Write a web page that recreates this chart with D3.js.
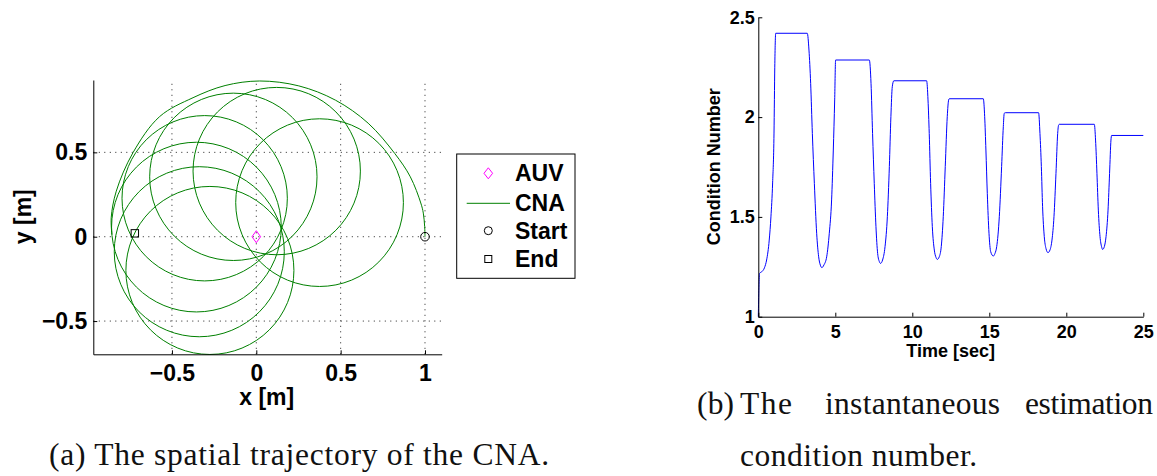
<!DOCTYPE html>
<html>
<head>
<meta charset="utf-8">
<script src="https://cdn.jsdelivr.net/npm/d3@7"></script>
<style>
  html, body { margin: 0; padding: 0; background: #fff; }
  svg { display: block; }
</style>
</head>
<body>
<svg id="fig" width="1157" height="476"></svg>
<script>
// ---------------- panel (a): spatial trajectory ----------------
const auvPos   = [0, 0];
const startPos = [1, 0];
const endPos   = [-0.72, 0.02];

// opening spiral flown from the start point until it runs into loop 5 (metres)
const spiralX = [1.000, 0.998, 0.990, 0.975, 0.913, 0.821, 0.663, 0.470, 0.252, 0.020,
                 -0.185, -0.375, -0.573, -0.731, -0.830, -0.860, -0.856];
const spiralY = [0.000, 0.060, 0.140, 0.200, 0.355, 0.493, 0.673, 0.809, 0.894, 0.923,
                 0.896, 0.824, 0.712, 0.498, 0.270, 0.113, 0.013];

// circular loops of the CNA: centre and radius (metres)
const loopCx = [0.375, 0.121, -0.136, -0.306, -0.355, -0.338, -0.275];
const loopCy = [0.202, 0.389, 0.355, 0.228, 0.057, -0.089, -0.200];
const loopR  = [0.497, 0.496, 0.496, 0.490, 0.503, 0.504, 0.498];

const xTicksA = [-0.5, 0, 0.5, 1];
const yTicksA = [-0.5, 0, 0.5];
const legendLabels = ["AUV", "CNA", "Start", "End"];

// ---------------- panel (b): condition number ----------------
const timeSec = [
  0, 0.08, 0.22, 0.40, 0.54, 0.71, 0.82, 0.93, 1.02, 1.07, 1.13,
  3.18, 3.29, 3.40, 3.51, 3.64, 3.79, 3.92, 4.03, 4.13, 4.26, 4.44, 4.61, 4.76, 4.87, 4.96, 5.02,
  7.21, 7.32, 7.42, 7.53, 7.64, 7.75, 7.86, 7.94, 8.07, 8.23, 8.38, 8.51, 8.61, 8.70, 8.80,
  10.93, 11.02, 11.10, 11.19, 11.30, 11.43, 11.54, 11.62, 11.75, 11.88, 12.01, 12.14, 12.27, 12.36, 12.40,
  14.61, 14.70, 14.78, 14.87, 14.98, 15.09, 15.26, 15.37, 15.48, 15.65, 15.80, 15.91, 15.97, 16.04,
  18.20, 18.29, 18.38, 18.46, 18.57, 18.68, 18.81, 18.94, 19.07, 19.20, 19.33, 19.44, 19.50, 19.55,
  21.82, 21.90, 21.99, 22.08, 22.19, 22.29, 22.36, 22.47, 22.58, 22.71, 22.81, 22.90, 22.94,
  25
];
const condNum = [
  1.000, 1.217, 1.225, 1.245, 1.284, 1.384, 1.500, 1.670, 1.920, 2.250, 2.420,
  2.420, 2.336, 2.169, 1.918, 1.668, 1.418, 1.300, 1.258, 1.246, 1.259, 1.300, 1.418, 1.585, 1.835, 2.086, 2.286,
  2.286, 2.169, 1.918, 1.668, 1.451, 1.317, 1.276, 1.267, 1.284, 1.351, 1.501, 1.752, 2.002, 2.152, 2.182,
  2.182, 2.086, 1.918, 1.668, 1.451, 1.334, 1.297, 1.287, 1.300, 1.351, 1.501, 1.752, 2.002, 2.086, 2.092,
  2.092, 2.002, 1.835, 1.618, 1.418, 1.326, 1.304, 1.317, 1.351, 1.501, 1.752, 1.952, 2.019, 2.022,
  2.022, 1.918, 1.752, 1.551, 1.401, 1.342, 1.321, 1.334, 1.384, 1.501, 1.718, 1.918, 1.960, 1.964,
  1.964, 1.885, 1.718, 1.534, 1.401, 1.351, 1.337, 1.351, 1.401, 1.534, 1.718, 1.885, 1.908,
  1.908
];
const xTicksB = [0, 5, 10, 15, 20, 25];
const yTicksB = [1, 1.5, 2, 2.5];

// ---------------- captions ----------------
const captionA = "(a) The spatial trajectory of the CNA.";
const captionB1 = ["(b)", "The", "instantaneous", "estimation"];
const captionB2 = "condition number.";

// =================================================================
const svg = d3.select("#fig");
const SANS = "'Liberation Sans', Arial, Helvetica, sans-serif";
const SERIF = "'Liberation Serif', 'Times New Roman', serif";
const green = "#008000";

function styleAxis(g, size) {
  g.attr("font-family", SANS).attr("font-size", size).attr("font-weight", "bold");
  g.select(".domain").attr("stroke", "#000").attr("stroke-width", 1);
  g.selectAll(".tick line").attr("stroke", "#000").attr("stroke-width", 1);
  g.selectAll(".tick text").attr("fill", "#000");
}

// ---------------- panel (a) ----------------
const xA = d3.scaleLinear().domain([-0.9662, 1.099]).range([93.3, 441.7]);
const yA = d3.scaleLinear().domain([-0.697, 0.9289]).range([354.3, 80]);
const gA = svg.append("g");

// dotted grid
gA.append("g").selectAll("line").data(xTicksA).join("line")
  .attr("x1", d => xA(d)).attr("x2", d => xA(d))
  .attr("y1", yA.range()[0]).attr("y2", yA.range()[1])
  .attr("stroke", "#222").attr("stroke-width", 1).attr("stroke-dasharray", "1,4.5");
gA.append("g").selectAll("line").data(yTicksA).join("line")
  .attr("y1", d => yA(d)).attr("y2", d => yA(d))
  .attr("x1", xA.range()[0]).attr("x2", xA.range()[1])
  .attr("stroke", "#222").attr("stroke-width", 1).attr("stroke-dasharray", "1,4.5");

// CNA trajectory: opening spiral + loops
const spiralPts = spiralX.map((x, i) => [x, spiralY[i]]);
gA.append("path")
  .attr("d", d3.line().x(d => xA(d[0])).y(d => yA(d[1])).curve(d3.curveCatmullRom.alpha(0.5))(spiralPts))
  .attr("fill", "none").attr("stroke", green).attr("stroke-width", 1);

const loops = loopCx.map((cx, i) => ({ cx, cy: loopCy[i], r: loopR[i] }));
gA.append("g").selectAll("circle").data(loops).join("circle")
  .attr("cx", d => xA(d.cx)).attr("cy", d => yA(d.cy))
  .attr("r", d => xA(d.r) - xA(0))
  .attr("fill", "none").attr("stroke", green).attr("stroke-width", 1);

// markers
const diamond = "M0,-6L4.3,0L0,6L-4.3,0Z";
gA.append("path").attr("d", diamond)
  .attr("transform", `translate(${xA(auvPos[0])},${yA(auvPos[1])})`)
  .attr("fill", "none").attr("stroke", "#ff00ff").attr("stroke-width", 1);
gA.append("circle").attr("cx", xA(startPos[0])).attr("cy", yA(startPos[1])).attr("r", 4.3)
  .attr("fill", "none").attr("stroke", "#000").attr("stroke-width", 1);
gA.append("rect").attr("x", xA(endPos[0]) - 3.7).attr("y", yA(endPos[1]) - 3.7)
  .attr("width", 7.4).attr("height", 7.4)
  .attr("fill", "none").attr("stroke", "#000").attr("stroke-width", 1);

// axes
const axAx = gA.append("g").attr("transform", `translate(0,${yA.range()[0]})`)
  .call(d3.axisBottom(xA).tickValues(xTicksA).tickSizeInner(-4).tickSizeOuter(0).tickFormat(d3.format("")));
styleAxis(axAx, 23);
axAx.selectAll(".tick text").attr("y", 19).attr("dy", "0.35em");
const axAy = gA.append("g").attr("transform", `translate(${xA.range()[0]},0)`)
  .call(d3.axisLeft(yA).tickValues(yTicksA).tickSizeInner(-4).tickSizeOuter(0).tickPadding(6).tickFormat(d3.format("")));
styleAxis(axAy, 23);

gA.append("text").text("x [m]")
  .attr("x", 266.7).attr("y", 405).attr("text-anchor", "middle")
  .attr("font-family", SANS).attr("font-size", 23).attr("font-weight", "bold");
gA.append("text").text("y [m]")
  .attr("transform", "translate(31,216.7) rotate(-90)").attr("text-anchor", "middle")
  .attr("font-family", SANS).attr("font-size", 23).attr("font-weight", "bold");

// legend
const leg = gA.append("g");
leg.append("rect").attr("x", 456.7).attr("y", 154).attr("width", 118.3).attr("height", 124.3)
  .attr("fill", "#fff").attr("stroke", "#000").attr("stroke-width", 1);
const legY = [173.3, 203.3, 230.7, 259];
const symX = 488.3;
leg.append("path").attr("d", "M0,-5.5L4.3,0L0,5.5L-4.3,0Z")
  .attr("transform", `translate(${symX},${legY[0]})`)
  .attr("fill", "none").attr("stroke", "#ff00ff").attr("stroke-width", 1);
leg.append("line").attr("x1", 466.7).attr("x2", 510).attr("y1", legY[1]).attr("y2", legY[1])
  .attr("stroke", green).attr("stroke-width", 1);
leg.append("circle").attr("cx", symX).attr("cy", legY[2]).attr("r", 4)
  .attr("fill", "none").attr("stroke", "#000").attr("stroke-width", 1);
leg.append("rect").attr("x", symX - 3.5).attr("y", legY[3] - 3.5).attr("width", 7).attr("height", 7)
  .attr("fill", "none").attr("stroke", "#000").attr("stroke-width", 1);
leg.selectAll("text.lab").data(legendLabels).join("text").attr("class", "lab")
  .text(d => d).attr("x", 515).attr("y", (d, i) => legY[i]).attr("dy", "0.35em")
  .attr("font-family", SANS).attr("font-size", 23).attr("font-weight", "bold");

// ---------------- panel (b) ----------------
const xB = d3.scaleLinear().domain([0, 25]).range([758.3, 1143.3]);
const yB = d3.scaleLinear().domain([1, 2.5]).range([316.7, 17.3]);
const gB = svg.append("g");

const cnPts = timeSec.map((t, i) => [t, condNum[i]]);
gB.append("path")
  .attr("d", d3.line().x(d => xB(d[0])).y(d => yB(d[1])).curve(d3.curveMonotoneX)(cnPts))
  .attr("fill", "none").attr("stroke", "#0000ff").attr("stroke-width", 1);

const axBx = gB.append("g").attr("transform", `translate(0,${yB.range()[0]})`)
  .call(d3.axisBottom(xB).tickValues(xTicksB).tickSizeInner(-4).tickSizeOuter(0).tickFormat(d3.format("")));
styleAxis(axBx, 18);
axBx.selectAll(".tick text").attr("y", 15).attr("dy", "0.35em");
const axBy = gB.append("g").attr("transform", `translate(${xB.range()[0]},0)`)
  .call(d3.axisLeft(yB).tickValues(yTicksB).tickSizeInner(-4).tickSizeOuter(0).tickPadding(3.5).tickFormat(d3.format("")));
styleAxis(axBy, 18);

gB.append("text").text("Time [sec]")
  .attr("x", 950.7).attr("y", 357).attr("text-anchor", "middle")
  .attr("font-family", SANS).attr("font-size", 18).attr("font-weight", "bold");
gB.append("text").text("Condition Number")
  .attr("transform", "translate(720,166.7) rotate(-90)").attr("text-anchor", "middle")
  .attr("font-family", SANS).attr("font-size", 18).attr("font-weight", "bold");

// ---------------- captions ----------------
const cap = svg.append("g").attr("font-family", SERIF).attr("font-size", 31.5).attr("fill", "#111");
cap.append("text").text(captionA).attr("x", 49).attr("y", 465)
  .attr("textLength", 500).attr("lengthAdjust", "spacing");
const b1x = [697, 740, 825, 1025];
const b1w = [37, 52, 175, 128];
cap.selectAll("text.b1").data(captionB1).join("text").attr("class", "b1")
  .text(d => d).attr("x", (d, i) => b1x[i]).attr("y", 414)
  .attr("textLength", (d, i) => b1w[i]).attr("lengthAdjust", "spacing");
cap.append("text").text(captionB2).attr("x", 740).attr("y", 466)
  .attr("textLength", 237).attr("lengthAdjust", "spacing");
</script>
</body>
</html>
